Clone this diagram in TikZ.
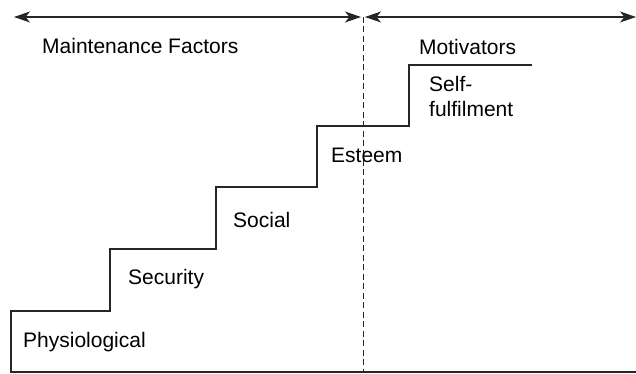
\documentclass[tikz,border=0pt]{standalone}
\usepackage{fontspec}
\setmainfont{Liberation Sans}
\usetikzlibrary{arrows.meta}
\begin{document}
\begin{tikzpicture}[x=1pt,y=-1pt,
  lbl/.style={anchor=base west,inner sep=0pt,font=\fontsize{21}{25}\selectfont},
  stair/.style={line width=1.3pt,black!85},
  span/.style={line width=1.1pt,black!85,{Stealth[length=16pt,width=11pt,inset=4.5pt]}-{Stealth[length=16pt,width=11pt,inset=4.5pt]}},
  divider/.style={line width=1pt,black!85,dash pattern=on 6pt off 3.5pt}]
\useasboundingbox (0,0) rectangle (636,374);
% coordinates
\coordinate (L) at (14,17);
\coordinate (ML) at (361,17);
\coordinate (MR) at (365,17);
\coordinate (R) at (636,17);
\coordinate (Dtop) at (363,17);
\coordinate (Dbot) at (363,372);
% staircase
\draw[stair] (636,372) -- (11,372) -- (11,311) -- (110,311) -- (110,249) -- (216,249) -- (216,187) -- (317,187) -- (317,126) -- (409,126) -- (409,65) -- (532,65);
% divider and spans
\draw[divider] (Dtop) -- (Dbot);
\draw[span] (L) -- (ML);
\draw[span] (MR) -- (R);
% labels
\node[lbl] (mf) at (42,54) {Maintenance Factors};
\node[lbl] (mot) at (419,55) {Motivators};
\node[lbl,align=left] (self) at (429,117) {Self-\\fulfilment};
\node[lbl] (est) at (331,163) {Esteem};
\node[lbl] (soc) at (233,227) {Social};
\node[lbl] (sec) at (128,284) {Security};
\node[lbl] (phy) at (23,347) {Physiological};
\end{tikzpicture}
\end{document}
